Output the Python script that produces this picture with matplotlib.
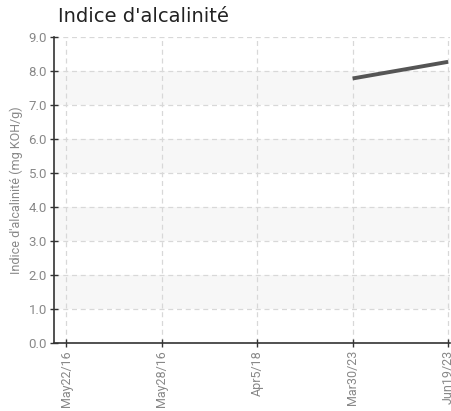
import matplotlib
matplotlib.use("Agg")
import matplotlib.pyplot as plt
import numpy as np

dates = ["May22/16", "May28/16", "Apr5/18", "Mar30/23", "Jun19/23"]
values = [np.nan, np.nan, np.nan, 7.78, 8.27]
y_ticks = [0.0, 1.0, 2.0, 3.0, 4.0, 5.0, 6.0, 7.0, 8.0, 9.0]

TICK_COLOR = "#888888"
GRID_COLOR = "#d8d8d8"
BAND_COLOR = "#f7f7f7"
NARROW = ["Roboto", "DejaVu Sans"]

fig = plt.figure(figsize=(4.52, 4.11), dpi=100)
ax = fig.add_axes([54 / 452, 1 - 343 / 411, 396 / 452, (343 - 37) / 411])

x = np.arange(len(dates))
for lo in range(1, 9, 2):
    ax.axhspan(lo, lo + 1, color=BAND_COLOR, zorder=0, lw=0)

ax.plot(x, values, color="#555555", lw=2.8, solid_capstyle="butt", zorder=3)

ax.set_xlim(-0.126, 4.02)
ax.set_ylim(0, 9)
ax.set_xticks(x)
ax.set_xticklabels(dates, rotation=90, fontsize=9, color=TICK_COLOR, family=NARROW)
ax.set_yticks(y_ticks)
ax.set_yticklabels([f"{v:.1f}" for v in y_ticks], fontsize=9.5, color=TICK_COLOR, family=NARROW)
ax.tick_params(direction="inout", length=6, width=1, color="#333333", pad=2)
ax.grid(True, color=GRID_COLOR, ls=(0, (4, 3)), lw=0.9, zorder=1)
for s in ("top", "right"):
    ax.spines[s].set_visible(False)
ax.spines["left"].set_color("#333333")
ax.spines["bottom"].set_color("#333333")
ax.spines["left"].set_linewidth(1.2)
ax.spines["bottom"].set_linewidth(1.2)

ax.set_ylabel("Indice d'alcalinité (mg KOH/g)", fontsize=9, color=TICK_COLOR,
              family=NARROW, labelpad=4)
fig.text(58 / 452, 1 - 17 / 411, "Indice d'alcalinité", fontsize=14, color="#222222",
         va="center", ha="left", family="DejaVu Sans")

fig.savefig("out.png", dpi=100)
